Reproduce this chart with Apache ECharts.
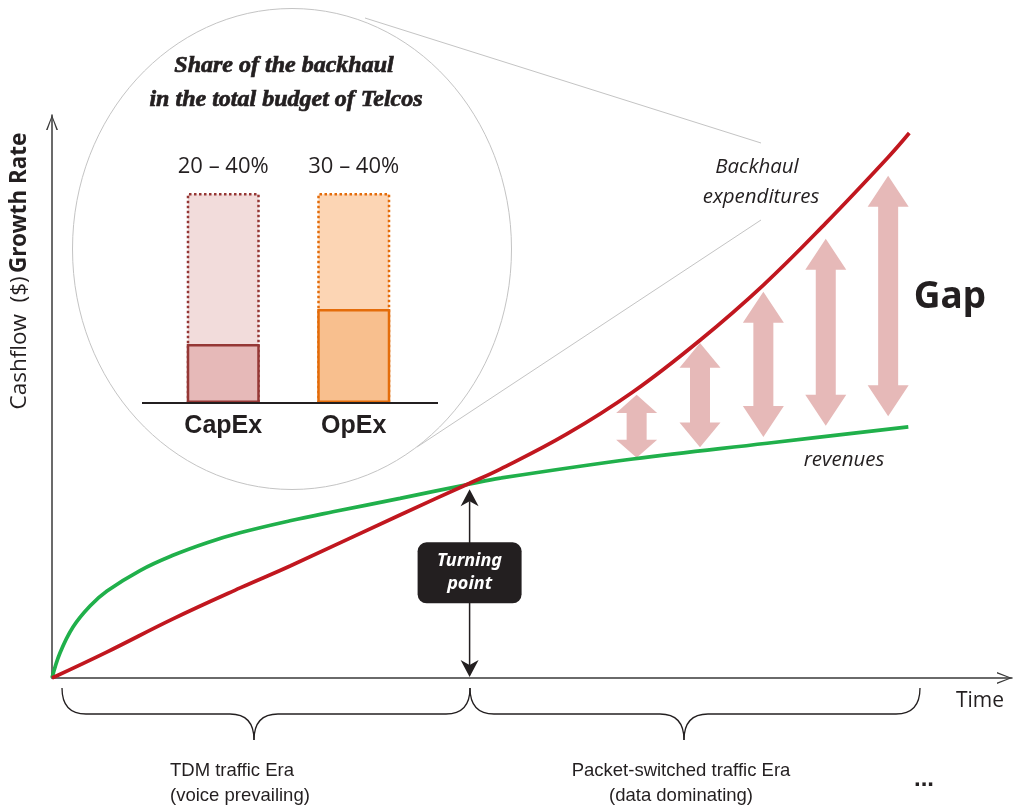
<!DOCTYPE html>
<html><head><meta charset="utf-8">
<script src="https://cdn.jsdelivr.net/npm/echarts@6/dist/echarts.min.js"></script>
<style>html,body{margin:0;padding:0;background:#fff}#c{width:1016px;height:810px}</style>
</head><body><div id="c"></div>
<script>
// ---- data (arbitrary units 0..100 on both axes) ----
const revenues = [[0,0],[0.83,4.44],[2.19,9.06],[3.96,12.79],[5.73,15.45],[9.17,19.09],[12.6,21.79],[16.15,24.03],[19.58,25.79],[24.79,27.92],[29.27,29.52],[36.25,31.9],[43.54,34.46],[46.7,35.5],[60.5,38.9],[74.5,41.7],[89.2,44.6]];
const backhaul = [[0,0],[5.7,4.6],[12.6,10.5],[19.6,16.0],[24.8,19.9],[36.3,29.0],[43.5,34.6],[46.7,37.1],[53.6,43.3],[60.5,50.8],[67.5,60.0],[74.1,69.8],[80.6,80.8],[87.1,92.5],[89.3,96.8]];
const gapX    = [60.9, 67.5, 74.1, 80.6, 87.1];
const gapLow  = [39.1, 41.0, 42.8, 44.8, 46.5];
const gapHigh = [50.3, 59.5, 68.6, 78.0, 89.2];
const turningPoint = [43.5, 34.6];
const budgetCats  = ['CapEx', 'OpEx'];
const budgetRange = ['20 – 40%', '30 – 40%'];
const budgetFull  = [100, 100];
const budgetBase  = [28.1, 44.8];

// ---- styles ----
const INK = '#231f20';
const RED = '#c1171f';
const GREEN = '#20b04b';
const PINK = '#e6b9b8';
const barColors = [
  {light:'#f2dcdb', solid:'#e6b9b8', border:'#953735'},
  {light:'#fcd5b4', solid:'#f8bf8e', border:'#e46c0a'}
];
const CHEVRON = 'path://M0,15 L6,0 L12,15 L10.4,15 L6,2.6 L1.6,15 Z';

function brace(x0, x1, xm){
  const yTop = 688, yMid = 714, yTip = 740, r = 24;
  const st = {fill:'none', stroke:INK, lineWidth:1.3};
  return {type:'group', children:[
    {type:'bezierCurve', shape:{x1:x0, y1:yTop, cpx1:x0, cpy1:yMid, x2:x0+r, y2:yMid}, style:st},
    {type:'line', shape:{x1:x0+r, y1:yMid, x2:xm-r, y2:yMid}, style:st},
    {type:'bezierCurve', shape:{x1:xm-r, y1:yMid, cpx1:xm, cpy1:yMid, x2:xm, y2:yTip}, style:st},
    {type:'bezierCurve', shape:{x1:xm, y1:yTip, cpx1:xm, cpy1:yMid, x2:xm+r, y2:yMid}, style:st},
    {type:'line', shape:{x1:xm+r, y1:yMid, x2:x1-r, y2:yMid}, style:st},
    {type:'bezierCurve', shape:{x1:x1-r, y1:yMid, cpx1:x1, cpy1:yMid, x2:x1, y2:yTop}, style:st}
  ]};
}

const chart = echarts.init(document.getElementById('c'));
const option = {
  animation: false,
  backgroundColor: '#fff',
  grid: [
    {left: 52, top: 115, width: 960, height: 563},
    {left: 158, top: 193, width: 261, height: 210}
  ],
  xAxis: [
    {type:'value', gridIndex:0, min:0, max:100,
     axisLine:{show:true, onZero:false, lineStyle:{color:'#3a3a3a', width:1.5},
               symbol:['none', CHEVRON], symbolSize:[12,15], symbolOffset:[0,-7.5]},
     axisTick:{show:false}, axisLabel:{show:false}, splitLine:{show:false}},
    {type:'category', gridIndex:1, data: budgetCats,
     axisLine:{show:false}, axisTick:{show:false},
     axisLabel:{fontSize:25, fontWeight:'bold', fontFamily:'"Liberation Sans", Arial', color:INK, margin:11}}
  ],
  yAxis: [
    {type:'value', gridIndex:0, min:0, max:100,
     axisLine:{show:true, onZero:false, lineStyle:{color:'#3a3a3a', width:1.5},
               symbol:['none', CHEVRON], symbolSize:[12,15], symbolOffset:[0,-7.5]},
     axisTick:{show:false}, axisLabel:{show:false}, splitLine:{show:false}},
    {type:'value', gridIndex:1, min:0, max:100, show:false}
  ],
  series: [
    {type:'line', name:'revenues', xAxisIndex:0, yAxisIndex:0, data: revenues,
     smooth:0.4, showSymbol:false, lineStyle:{color:GREEN, width:3.7}, z:3},
    {type:'line', name:'Backhaul expenditures', xAxisIndex:0, yAxisIndex:0, data: backhaul,
     smooth:0.4, showSymbol:false, lineStyle:{color:RED, width:3.7}, z:4},
    {type:'custom', name:'gap', xAxisIndex:0, yAxisIndex:0, z:2,
     data: gapX.map((x,i)=>[x, gapLow[i], gapHigh[i]]),
     renderItem: function(params, api){
       const b = api.coord([api.value(0), api.value(1)]);
       const t = api.coord([api.value(0), api.value(2)]);
       const cx = b[0], yb = b[1], yt = t[1];
       const len = yb - yt, hl = Math.min(31, 8 + len*0.16), hw = 20.5, sw = 10;
       return {type:'polygon', shape:{points:[[cx,yt],[cx+hw,yt+hl],[cx+sw,yt+hl],[cx+sw,yb-hl],[cx+hw,yb-hl],[cx,yb],[cx-hw,yb-hl],[cx-sw,yb-hl],[cx-sw,yt+hl],[cx-hw,yt+hl]]},
               style:{fill:PINK}};
     }},
    {type:'custom', name:'turning', xAxisIndex:0, yAxisIndex:0, z:5,
     data:[turningPoint],
     renderItem: function(params, api){
       const top = api.coord([api.value(0), api.value(1)]);
       const base = api.coord([api.value(0), 0]);
       const x = top[0], yt = top[1] + 6, yb = base[1] - 1;
       const hh = 17, hw = 9;
       const by = base[1] - 0.54*(base[1]-top[1]);
       return {type:'group', children:[
         {type:'line', shape:{x1:x, y1:yt+hh-5, x2:x, y2:yb-hh+5}, style:{stroke:INK, lineWidth:1.5}},
         {type:'polygon', shape:{points:[[x,yt],[x+hw,yt+hh],[x,yt+hh-5],[x-hw,yt+hh]]}, style:{fill:INK}},
         {type:'polygon', shape:{points:[[x,yb],[x+hw,yb-hh],[x,yb-hh+5],[x-hw,yb-hh]]}, style:{fill:INK}},
         {type:'rect', shape:{x:x-52, y:by-30.5, width:104, height:61, r:9}, style:{fill:INK}},
         {type:'text', x:x, y:by, style:{text:'Turning\npoint', fill:'#fff', font:'italic bold 18px "Noto Sans"',
            align:'center', verticalAlign:'middle', textAlign:'center', textVerticalAlign:'middle', lineHeight:23}}
       ]};
     }},
    {type:'bar', name:'range', xAxisIndex:1, yAxisIndex:1, barWidth:73, barGap:'-100%',
     data: budgetFull.map((v,i)=>({value:v, itemStyle:{color:barColors[i].light, borderColor:barColors[i].border, borderWidth:2.5, borderType:'dotted'}})),
     label:{show:true, position:'top', distance:15, formatter:(p)=>budgetRange[p.dataIndex],
            fontSize:22, fontFamily:'"Open Sans"', color:INK}},
    {type:'bar', name:'base', xAxisIndex:1, yAxisIndex:1, barWidth:73, barGap:'-100%',
     data: budgetBase.map((v,i)=>({value:v, itemStyle:{color:barColors[i].solid, borderColor:barColors[i].border, borderWidth:2.5}}))}
  ],
  graphic: [
    {type:'ellipse', z:1, shape:{cx:292, cy:249, rx:219.5, ry:240.5}, style:{fill:'none', stroke:'#c4c4c4', lineWidth:1}},
    {type:'line', z:1, shape:{x1:365, y1:18, x2:761, y2:143}, style:{stroke:'#c4c4c4', lineWidth:1}},
    {type:'line', z:1, shape:{x1:417, y1:447, x2:761, y2:220}, style:{stroke:'#c4c4c4', lineWidth:1}},
    {type:'line', z:100, shape:{x1:142, y1:403, x2:438, y2:403}, style:{stroke:INK, lineWidth:2}},
    {type:'text', x:284, y:66, style:{text:'Share of the backhaul', font:'italic bold 24px "Liberation Serif"', fill:INK, stroke:INK, lineWidth:0.7, align:'center', verticalAlign:'middle'}},
    {type:'text', x:286, y:100, style:{text:'in the total budget of Telcos', font:'italic bold 24px "Liberation Serif"', fill:INK, stroke:INK, lineWidth:0.7, align:'center', verticalAlign:'middle'}},
    brace(62, 470, 254),
    brace(470, 920, 684),
    {type:'text', x:757, y:167, style:{text:'Backhaul', font:'italic 20.5px "Open Sans"', fill:INK, align:'center', verticalAlign:'middle'}},
    {type:'text', x:761, y:197, style:{text:'expenditures', font:'italic 20.5px "Open Sans"', fill:INK, align:'center', verticalAlign:'middle'}},
    {type:'text', x:844, y:460, style:{text:'revenues', font:'italic 20.5px "Open Sans"', fill:INK, align:'center', verticalAlign:'middle'}},
    {type:'text', x:950, y:297, style:{text:'Gap', font:'bold 37px "Noto Sans"', fill:INK, align:'center', verticalAlign:'middle'}},
    {type:'text', x:980, y:701, style:{text:'Time', font:'21px "Open Sans"', fill:INK, align:'center', verticalAlign:'middle'}},
    {type:'text', x:924, y:779, style:{text:'...', font:'bold 24px "Liberation Sans"', fill:INK, align:'center', verticalAlign:'middle'}},
    {type:'text', x:170, y:771, style:{text:'TDM traffic Era', font:'18.5px "Liberation Sans"', fill:INK, align:'left', verticalAlign:'middle'}},
    {type:'text', x:170, y:796, style:{text:'(voice prevailing)', font:'18.5px "Liberation Sans"', fill:INK, align:'left', verticalAlign:'middle'}},
    {type:'text', x:681, y:771, style:{text:'Packet-switched traffic Era', font:'18.5px "Liberation Sans"', fill:INK, align:'center', verticalAlign:'middle'}},
    {type:'text', x:681, y:796, style:{text:'(data dominating)', font:'18.5px "Liberation Sans"', fill:INK, align:'center', verticalAlign:'middle'}},
    {type:'text', x:20, y:271, rotation:Math.PI/2,
     style:{text:'{a|Cashflow  ($)} {b|Growth Rate}', align:'center', verticalAlign:'middle', fill:INK,
            rich:{a:{fontSize:22.5, fontFamily:'"Open Sans"', color:INK}, b:{fontSize:22.5, fontFamily:'"Noto Sans"', fontWeight:'bold', color:INK}}}}
  ]
};
chart.setOption(option);
</script>
</body></html>
